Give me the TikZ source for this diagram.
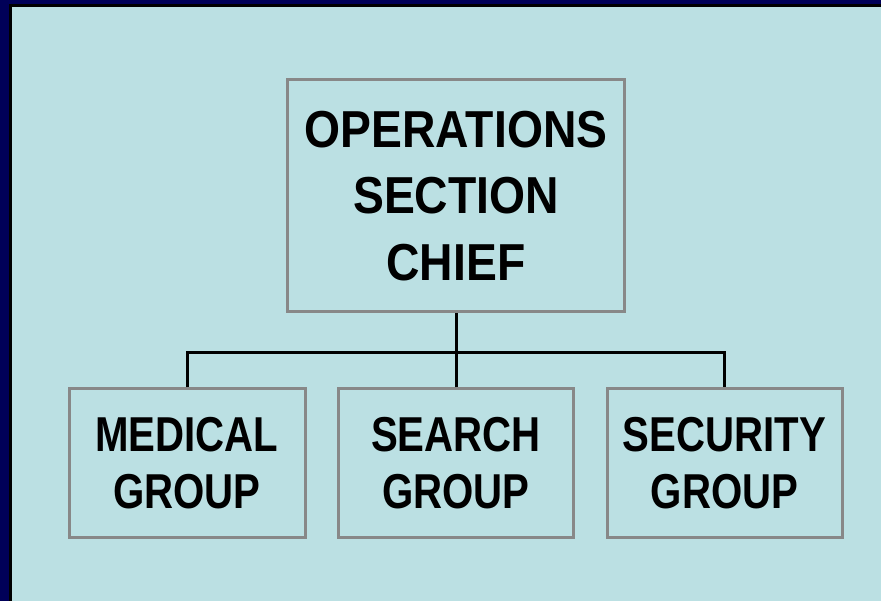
\documentclass[tikz,border=0pt]{standalone}
\usepackage{fontspec}
\newfontfamily\chieffont[FakeStretch=0.89]{Liberation Sans}
\newfontfamily\groupfont[FakeStretch=0.82]{Liberation Sans}
\usetikzlibrary{positioning}

\definecolor{slidenavy}{RGB}{0,0,88}
\definecolor{slidebg}{RGB}{187,224,227}
\definecolor{boxgray}{RGB}{136,136,136}

\begin{document}
\begin{tikzpicture}[%
    x=1pt, y=1pt,
    on grid,
    box/.style={draw=boxgray, line width=3pt, align=center, inner sep=0pt},
    chief/.style={box, minimum width=337pt, minimum height=232pt,
      font=\chieffont\bfseries\fontsize{52}{66.5}\selectfont},
    group/.style={box, minimum width=235pt, minimum height=149pt,
      font=\groupfont\bfseries\fontsize{49}{57}\selectfont},
    link/.style={line width=3pt}
  ]
    % slide background
    \fill[slidenavy] (0,0) rectangle (881,601);
    \fill[black] (9,0) rectangle (881,597);
    \fill[slidebg] (12,0) rectangle (881,594);
    \useasboundingbox (0,0) rectangle (881,601);

    \node[chief] (ops) at (456,405) {OPERATIONS\\SECTION\\CHIEF};
    \node[group] (search) [below=267.5pt of ops] {SEARCH\\GROUP};
    \node[group, minimum width=236pt] (medical) [left=269pt of search] {MEDICAL\\GROUP};
    \node[group] (security) [right=268.5pt of search] {SECURITY\\GROUP};

    \draw[link] (ops.south) -- ++(0,-39) coordinate (bus);
    \draw[link] (medical.north) |- (bus) -| (security.north);
    \draw[link] (search.north) -- (bus);
\end{tikzpicture}
\end{document}
